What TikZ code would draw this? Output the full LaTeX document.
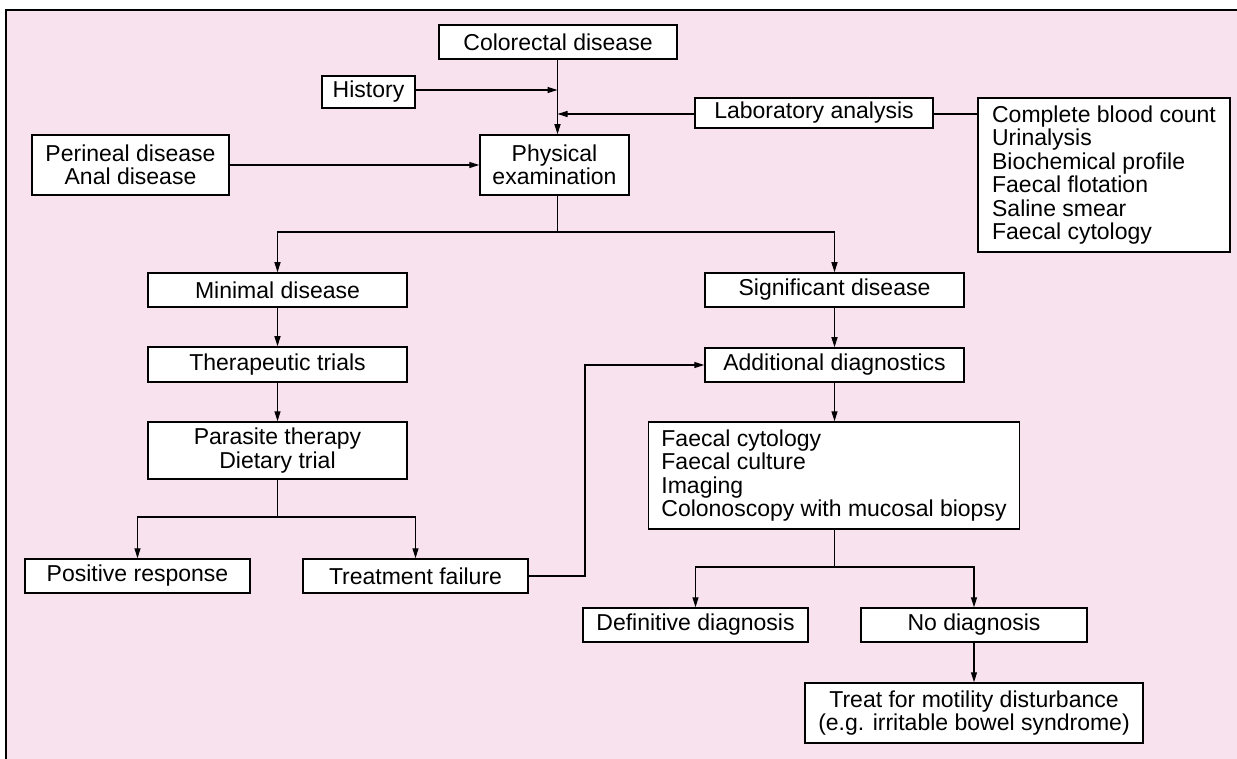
\documentclass[tikz,border=0pt]{standalone}
\usepackage{fontspec}
\setmainfont{Liberation Sans}
\usetikzlibrary{arrows.meta}
\definecolor{bgpink}{RGB}{247,226,237}
\begin{document}
\begin{tikzpicture}[x=1pt,y=-1pt,
  bx/.style={draw=black, line width=1.5pt, fill=white, inner sep=0pt, align=center,
     font=\fontsize{23}{23.5}\selectfont},
  lbx/.style={bx, align=left},
  conn/.style={line width=1.4pt},
  arr/.style={conn, -{Triangle[length=10pt,width=6pt]}}]
\useasboundingbox (0,0) rectangle (1237,759);
\fill[white] (0,0) rectangle (1237,759);
\fill[bgpink] (6,10) rectangle (1237,759);
\draw[line width=2pt] (6,759) -- (6,10) -- (1237,10);

\node[bx, minimum width=238pt, minimum height=34pt] (col) at (558,42) {Colorectal disease};
\node[bx, minimum width=93pt, minimum height=32pt] (hist) at (368.5,92) {History};
\node[bx, minimum width=238pt, minimum height=30pt] (lab) at (814,113) {Laboratory analysis};
\node[lbx, minimum width=252pt, minimum height=154pt] (cbc) at (1104,175) {Complete blood count\\Urinalysis\\Biochemical profile\\Faecal flotation\\Saline smear\\Faecal cytology};
\node[bx, minimum width=197pt, minimum height=60pt] (per) at (130.5,165) {Perineal disease\\Anal disease};
\node[bx, minimum width=149pt, minimum height=60pt] (phys) at (554.5,165) {Physical\\examination};
\node[bx, minimum width=259pt, minimum height=34pt] (min) at (277.5,290) {Minimal disease};
\node[bx, minimum width=259pt, minimum height=35pt] (ther) at (277.5,364.5) {Therapeutic trials};
\node[bx, minimum width=259pt, minimum height=57pt] (para) at (277.5,450.5) {Parasite therapy\\Dietary trial};
\node[bx, minimum width=225pt, minimum height=34pt] (pos) at (137.5,576) {Positive response};
\node[bx, minimum width=225pt, minimum height=34pt] (fail) at (415.5,576) {Treatment failure};
\node[bx, minimum width=259pt, minimum height=34pt] (sig) at (834.5,290) {Significant disease};
\node[bx, minimum width=259pt, minimum height=34pt] (add) at (834.5,365) {Additional diagnostics};
\node[lbx, minimum width=371pt, minimum height=107pt] (fc) at (834,475.5) {Faecal cytology\\Faecal culture\\Imaging\\Colonoscopy with mucosal biopsy};
\node[bx, minimum width=225pt, minimum height=34pt] (def) at (695.5,625) {Definitive diagnosis};
\node[bx, minimum width=226pt, minimum height=34pt] (nod) at (974,625) {No diagnosis};
\node[bx, minimum width=338pt, minimum height=60pt] (treat) at (974,713) {Treat for motility disturbance\\(e.g. irritable bowel syndrome)};

\coordinate (vx) at (557.5,0);
\coordinate (br1) at (0,232);
\coordinate (br2) at (0,517);
\coordinate (br3) at (0,567);
\coordinate (ret) at (585,0);

\draw[arr] (col.south -| vx) -- (phys.north -| vx);
\draw[arr] (hist.east |- 0,90) -- (vx |- 0,90);
\draw[arr] (lab.west |- 0,114) -- (vx |- 0,114);
\draw[conn] (lab.east |- 0,114) -- (cbc.west |- 0,114);
\draw[arr] (per.east) -- (phys.west |- per.east);
\draw[conn] (phys.south -| vx) -- (vx |- br1);
\draw[arr] (vx |- br1) -| (min.north);
\draw[arr] (vx |- br1) -| (sig.north);
\draw[arr] (min.south) -- (ther.north);
\draw[arr] (ther.south) -- (para.north);
\draw[conn] (para.south) -- (para.south |- br2);
\draw[arr] (para.south |- br2) -| (pos.north);
\draw[arr] (para.south |- br2) -| (fail.north);
\draw[arr] (fail.east) -- (fail.east -| ret) |- (add.west);
\draw[arr] (sig.south) -- (add.north);
\draw[arr] (add.south) -- (add.south |- fc.north);
\draw[conn] (fc.south -| add.south) -- (add.south |- br3);
\draw[arr] (add.south |- br3) -| (def.north);
\draw[arr] (add.south |- br3) -| (nod.north);
\draw[arr] (nod.south) -- (nod.south |- treat.north);
\end{tikzpicture}
\end{document}
